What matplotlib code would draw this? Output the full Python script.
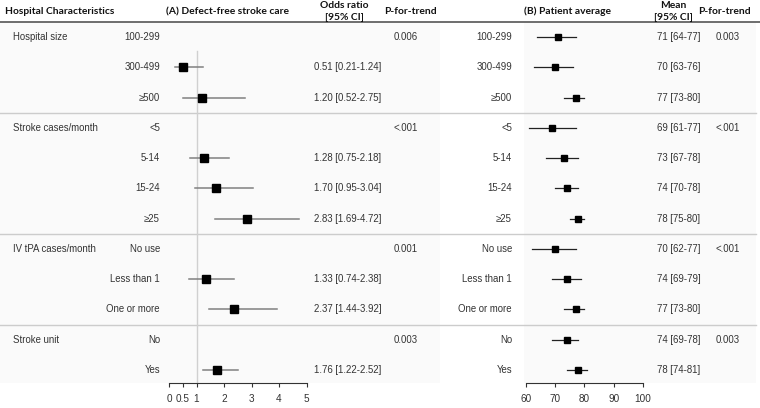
import matplotlib
matplotlib.use("Agg")
import matplotlib.pyplot as plt
import numpy as np

plt.rcParams['font.family'] = ['Liberation Sans', 'DejaVu Sans']

# --- data -------------------------------------------------------------
groups = ["Hospital size", "Stroke cases/month", "IV tPA cases/month", "Stroke unit"]
group_rows = [0, 3, 7, 10]
levels = ["100-299", "300-499", "\u2265500",
          "<5", "5-14", "15-24", "\u226525",
          "No use", "Less than 1", "One or more",
          "No", "Yes"]

# (A) odds ratios, None = reference level
or_est = [None, 0.51, 1.20, None, 1.28, 1.70, 2.83, None, 1.33, 2.37, None, 1.76]
or_lo = [None, 0.21, 0.52, None, 0.75, 0.95, 1.69, None, 0.74, 1.44, None, 1.22]
or_hi = [None, 1.24, 2.75, None, 2.18, 3.04, 4.72, None, 2.38, 3.92, None, 2.52]
p_a = ["0.006", "<.001", "0.001", "0.003"]

# (B) patient average
mean_est = [71, 70, 77, 69, 73, 74, 78, 70, 74, 77, 74, 78]
mean_lo = [64, 63, 73, 61, 67, 70, 75, 62, 69, 73, 69, 74]
mean_hi = [77, 76, 80, 77, 78, 78, 80, 77, 79, 80, 78, 81]
p_b = ["0.003", "<.001", "<.001", "0.003"]

or_ticks = [0, 0.5, 1, 2, 3, 4, 5]
mean_ticks = [60, 70, 80, 90, 100]

# --- layout -----------------------------------------------------------
W, H = 760, 408
fig = plt.figure(figsize=(W / 100, H / 100), dpi=100)

# row i sits at pixel 37 + 30.27*i
def rowy(p):
    return (p - 37) / 30.27

ytop, ybot = rowy(0), rowy(H)

bg = fig.add_axes([0, 0, 1, 1])
bg.set_xlim(0, W)
bg.set_ylim(ybot, ytop)
bg.axis("off")

head_y = rowy(22)
axis_y = rowy(383)
# very light shading of panels
bg.fill_between([0, 440], head_y, axis_y, color="#fafafa", zorder=0, lw=0)
bg.fill_between([524, 756], head_y, axis_y, color="#fafafa", zorder=0, lw=0)

bg.plot([0, W], [head_y, head_y], color="#555555", lw=1.2)
for s in [2.5, 6.5, 9.5]:
    bg.plot([0, 756], [s + 0.02, s + 0.02], color="#cccccc", lw=1)

hdr = dict(fontsize=7.4, fontweight="bold", color="#111111", va="center",
           family=["Lato", "DejaVu Sans"])
bg.text(5, rowy(11.5), "Hospital Characteristics", ha="left", **hdr)
bg.text(228, rowy(11.5), "(A) Defect-free stroke care", ha="center", **hdr)
bg.text(344, rowy(11.5), "Odds ratio\n[95% CI]", ha="center", linespacing=1.3, **hdr)
bg.text(410, rowy(11.5), "P-for-trend", ha="center", **hdr)
bg.text(568, rowy(11.5), "(B) Patient average", ha="center", **hdr)
bg.text(673, rowy(11.5), "Mean\n[95% CI]", ha="center", linespacing=1.3, **hdr)
bg.text(724, rowy(11.5), "P-for-trend", ha="center", **hdr)

txt = dict(fontsize=6.9, color="#333333", va="center",
           family=["Liberation Sans", "DejaVu Sans"])
for g, r in zip(groups, group_rows):
    bg.text(13, r, g, ha="left", **txt)
for i, lv in enumerate(levels):
    bg.text(160, i, lv, ha="right", **txt)
    bg.text(512, i, lv, ha="right", **txt)
    if or_est[i] is not None:
        bg.text(314, i, "%.2f [%.2f-%.2f]" % (or_est[i], or_lo[i], or_hi[i]),
                ha="left", **txt)
    bg.text(657, i, "%d [%d-%d]" % (mean_est[i], mean_lo[i], mean_hi[i]),
            ha="left", **txt)
for pa, pb, r in zip(p_a, p_b, group_rows):
    bg.text(406, r, pa, ha="center", **txt)
    bg.text(728, r, pb, ha="center", **txt)

# --- forest panels ----------------------------------------------------
def panel(x0, x1, lim):
    ax = fig.add_axes([x0 / W, 0, (x1 - x0) / W, 1])
    ax.set_xlim(*lim)
    ax.set_ylim(ybot, ytop)
    ax.patch.set_alpha(0)
    for sp in ["top", "right", "left"]:
        ax.spines[sp].set_visible(False)
    ax.spines["bottom"].set_position(("data", axis_y))
    ax.spines["bottom"].set_color("#333333")
    ax.spines["bottom"].set_linewidth(0.8)
    ax.set_yticks([])
    ax.tick_params(axis="x", length=3, width=0.8, color="#333333",
                   labelsize=7.2, labelcolor="#333333", pad=5)
    for lab in ax.get_xticklabels():
        lab.set_family(["Liberation Sans", "DejaVu Sans"])
    return ax

axA = panel(169, 306.5, (0, 5))
axA.set_xticks(or_ticks)
axA.set_xticklabels(["0", "0.5", "1", "2", "3", "4", "5"],
                    family=["Liberation Sans", "DejaVu Sans"])
axA.plot([1, 1], [0.45, axis_y], color="#d0d0d0", lw=1, zorder=1)
for i in range(len(levels)):
    if or_est[i] is None:
        continue
    axA.plot([or_lo[i], or_hi[i]], [i, i], color="#808080", lw=1.1, zorder=2)
    axA.plot(or_est[i], i, "s", color="black", ms=5.5, zorder=3)

axB = panel(525.7, 643, (60, 100))
axB.set_xticks(mean_ticks)
axB.set_xticklabels([str(t) for t in mean_ticks],
                    family=["Liberation Sans", "DejaVu Sans"])
for i in range(len(levels)):
    axB.plot([mean_lo[i], mean_hi[i]], [i, i], color="#222222", lw=0.9, zorder=2)
    axB.plot(mean_est[i], i, "s", color="black", ms=5, zorder=3)

fig.savefig("out.png", dpi=100)
